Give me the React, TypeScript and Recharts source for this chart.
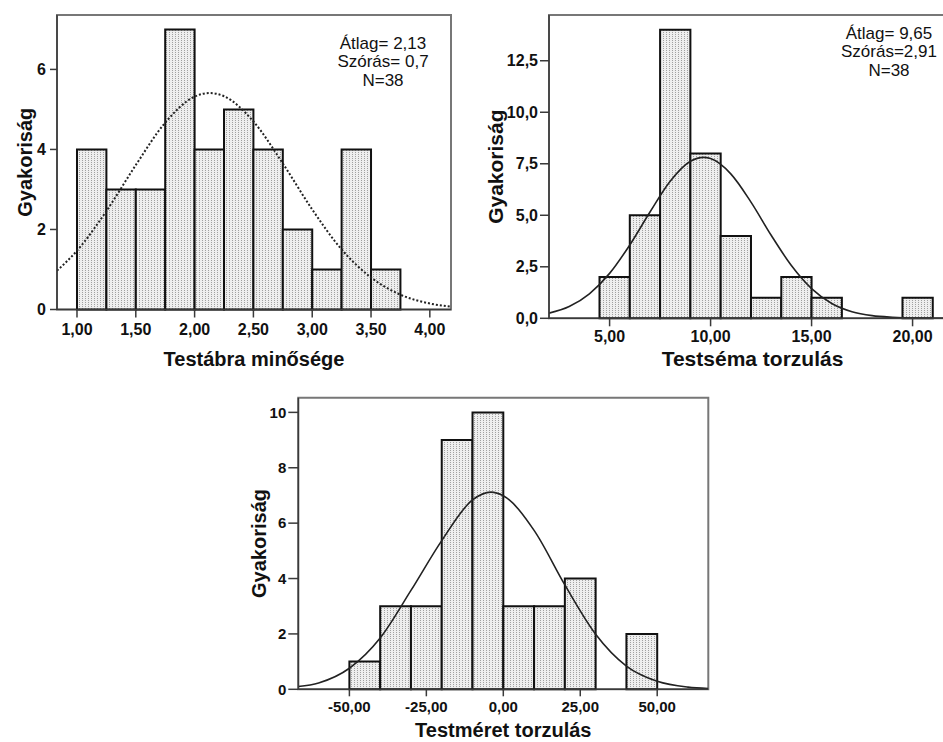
import React from 'react';
import { ComposedChart, XAxis, YAxis, Line, ReferenceArea } from 'recharts';

// Testábra minősége
const t1Edges = [1.0, 1.25, 1.5, 1.75, 2.0, 2.25, 2.5, 2.75, 3.0, 3.25, 3.5, 3.75];
const t1Counts = [4, 3, 3, 7, 4, 5, 4, 2, 1, 4, 1];
const t1CurveX = [0.83, 1.0, 1.25, 1.5, 1.75, 2.0, 2.13, 2.25, 2.5, 2.75, 3.0, 3.25, 3.5, 3.75, 4.0, 4.18];
const t1CurveY = [0.97, 1.47, 2.46, 3.61, 4.67, 5.32, 5.41, 5.33, 4.7, 3.65, 2.5, 1.5, 0.8, 0.37, 0.15, 0.07];
const t1XTicks = [1.0, 1.5, 2.0, 2.5, 3.0, 3.5, 4.0];
const t1YTicks = [0, 2, 4, 6];
const t1Stats = ['Átlag= 2,13', 'Szórás= 0,7', 'N=38'];

// Testséma torzulás
const t2Edges = [4.5, 6, 7.5, 9, 10.5, 12, 13.5, 15, 16.5, 18, 19.5, 21];
const t2Counts = [2, 5, 14, 8, 4, 1, 2, 1, 0, 0, 1];
const t2CurveX = [2, 3, 4, 5, 6, 7, 8, 9, 9.65, 10, 11, 12, 13, 14, 15, 16, 17, 18, 19, 20, 21, 22.15];
const t2CurveY = [0.25, 0.57, 1.19, 2.18, 3.56, 5.16, 6.65, 7.62, 7.81, 7.75, 7.01, 5.64, 4.03, 2.56, 1.44, 0.72, 0.32, 0.13, 0.05, 0.01, 0, 0];
const t2XTicks = [5, 10, 15, 20];
const t2YTicks = [0, 2.5, 5, 7.5, 10, 12.5];
const t2Stats = ['Átlag= 9,65', 'Szórás=2,91', 'N=38'];

// Testméret torzulás
const t3Edges = [-50, -40, -30, -20, -10, 0, 10, 20, 30, 40, 50];
const t3Counts = [1, 3, 3, 9, 10, 3, 3, 4, 0, 2];
const t3CurveX = [-66.6, -60, -50, -40, -30, -20, -10, -4, 0, 10, 20, 30, 40, 50, 60, 66.6];
const t3CurveY = [0.1, 0.23, 0.76, 1.85, 3.57, 5.37, 6.84, 7.12, 6.99, 5.74, 3.77, 1.99, 0.84, 0.29, 0.08, 0.03];
const t3XTicks = [-50, -25, 0, 25, 50];
const t3YTicks = [0, 2, 4, 6, 8, 10];

const FONT = '"Liberation Sans", Arial, sans-serif';
const AXIS = '#3a3a3a';

const fmtX = (v: number) => v.toFixed(2).replace('.', ',');

type HistProps = {
  id: string;
  width: number;
  height: number;
  margin: { top: number; right: number; left: number; bottom: number };
  xDomain: [number, number];
  yDomain: [number, number];
  xTicks: number[];
  yTicks: number[];
  yFmt: (v: number) => string;
  edges: number[];
  counts: number[];
  curveX: number[];
  curveY: number[];
  dotted?: boolean;
  stats?: string[];
  statsX?: number;
  statsY?: number;
  xLabel: string;
  yLabelX: number;
  yAxisWidth: number;
  xAxisHeight: number;
  tickFont: number;
  labelFont: number;
  yTickSize: number;
  xTickSize: number;
  xTickMargin: number;
  yTickMargin: number;
  xLabelOffset: number;
};

const Hist = (p: HistProps) => {
  const data = p.curveX.map((x, i) => ({ x, y: p.curveY[i] }));
  const plotTop = p.margin.top;
  const plotH = p.height - p.margin.top - p.margin.bottom - p.xAxisHeight;
  const tickStyle = { fill: '#111', fontSize: p.tickFont, fontWeight: 700, fontFamily: FONT };
  return (
    <ComposedChart width={p.width} height={p.height} data={data} margin={p.margin}>
      <defs>
        <pattern id={p.id} width="3" height="2" patternUnits="userSpaceOnUse">
          <rect width="3" height="2" fill="#eeeeee" />
          <rect x="1" y="0" width="1" height="1" fill="#a0a0a0" />
        </pattern>
      </defs>
      <XAxis
        dataKey="x"
        type="number"
        domain={p.xDomain}
        ticks={p.xTicks}
        tickFormatter={fmtX}
        allowDataOverflow
        height={p.xAxisHeight}
        stroke={AXIS}
        strokeWidth={1.5}
        tickSize={p.xTickSize}
        tickMargin={p.xTickMargin}
        tick={tickStyle}
        interval={0}
        label={{
          value: p.xLabel,
          position: 'insideBottom',
          offset: p.xLabelOffset,
          fill: '#111',
          fontSize: p.labelFont,
          fontWeight: 700,
          fontFamily: FONT,
        }}
      />
      <YAxis
        type="number"
        domain={p.yDomain}
        ticks={p.yTicks}
        tickFormatter={p.yFmt}
        allowDataOverflow
        width={p.yAxisWidth}
        stroke={AXIS}
        strokeWidth={1.5}
        tickSize={p.yTickSize}
        tickMargin={p.yTickMargin}
        tick={tickStyle}
        interval={0}
      />
      {/* frame around the plot area */}
      <ReferenceArea
        x1={p.xDomain[0]}
        x2={p.xDomain[1]}
        y1={p.yDomain[0]}
        y2={p.yDomain[1]}
        fill="none"
        stroke="#777"
        strokeWidth={2}
        ifOverflow="visible"
      />
      {p.counts.map((c, i) =>
        c > 0 ? (
          <ReferenceArea
            key={i}
            x1={p.edges[i]}
            x2={p.edges[i + 1]}
            y1={0}
            y2={c}
            fill={`url(#${p.id})`}
            fillOpacity={1}
            stroke="#111"
            strokeWidth={2}
          />
        ) : null
      )}
      <Line
        dataKey="y"
        type="monotone"
        dot={false}
        activeDot={false}
        stroke="#222"
        strokeWidth={p.dotted ? 2 : 1.6}
        strokeDasharray={p.dotted ? '2 2' : undefined}
        isAnimationActive={false}
      />
      <text
        x={p.yLabelX}
        y={plotTop + plotH / 2}
        transform={`rotate(-90, ${p.yLabelX}, ${plotTop + plotH / 2})`}
        textAnchor="middle"
        dominantBaseline="central"
        fill="#111"
        fontSize={p.labelFont}
        fontWeight={700}
        fontFamily={FONT}
      >
        Gyakoriság
      </text>
      {p.stats &&
        p.stats.map((s, i) => (
          <text
            key={s}
            x={p.statsX}
            y={(p.statsY || 0) + i * 18.5}
            textAnchor="middle"
            dominantBaseline="central"
            fill="#111"
            fontSize={17}
            fontFamily={FONT}
          >
            {s}
          </text>
        ))}
    </ComposedChart>
  );
};

export default function App() {
  return (
    <div style={{ position: 'absolute', left: 0, top: 0, width: 943, height: 742, overflow: 'hidden', background: '#fff' }}>
      <div style={{ position: 'absolute', left: 0, top: 0 }}>
        <Hist
          id="dots1"
          width={470}
          height={370}
          margin={{ top: 15, right: 19, left: 0, bottom: 0 }}
          xDomain={[0.83, 4.18]}
          yDomain={[0, 7.36]}
          xTicks={t1XTicks}
          yTicks={t1YTicks}
          yFmt={(v) => String(v)}
          edges={t1Edges}
          counts={t1Counts}
          curveX={t1CurveX}
          curveY={t1CurveY}
          dotted
          stats={t1Stats}
          statsX={383}
          statsY={43}
          xLabel="Testábra minősége"
          yLabelX={25}
          yAxisWidth={57}
          xAxisHeight={60.5}
          tickFont={16}
          labelFont={20}
          yTickSize={7}
          xTickSize={8}
          xTickMargin={6}
          yTickMargin={4}
          xLabelOffset={4}
        />
      </div>
      <div style={{ position: 'absolute', left: 470, top: 0 }}>
        <Hist
          id="dots2"
          width={490}
          height={370}
          margin={{ top: 15, right: 4, left: 0, bottom: 0 }}
          xDomain={[2.0, 22.15]}
          yDomain={[0, 14.72]}
          xTicks={t2XTicks}
          yTicks={t2YTicks}
          yFmt={(v) => v.toFixed(1).replace('.', ',')}
          edges={t2Edges}
          counts={t2Counts}
          curveX={t2CurveX}
          curveY={t2CurveY}
          stats={t2Stats}
          statsX={419}
          statsY={33}
          xLabel="Testséma torzulás"
          yLabelX={25.5}
          yAxisWidth={79}
          xAxisHeight={51.7}
          tickFont={16}
          labelFont={21}
          yTickSize={9}
          xTickSize={8}
          xTickMargin={4}
          yTickMargin={2}
          xLabelOffset={4}
        />
      </div>
      <div style={{ position: 'absolute', left: 230, top: 370 }}>
        <Hist
          id="dots3"
          width={500}
          height={372}
          margin={{ top: 27.7, right: 21.7, left: 0, bottom: 0 }}
          xDomain={[-66.6, 66.6]}
          yDomain={[0, 10.53]}
          xTicks={t3XTicks}
          yTicks={t3YTicks}
          yFmt={(v) => String(v)}
          edges={t3Edges}
          counts={t3Counts}
          curveX={t3CurveX}
          curveY={t3CurveY}
          xLabel="Testméret torzulás"
          yLabelX={29}
          yAxisWidth={68.3}
          xAxisHeight={52.7}
          tickFont={15}
          labelFont={20}
          yTickSize={10}
          xTickSize={7}
          xTickMargin={5}
          yTickMargin={2}
          xLabelOffset={5}
        />
      </div>
    </div>
  );
}
